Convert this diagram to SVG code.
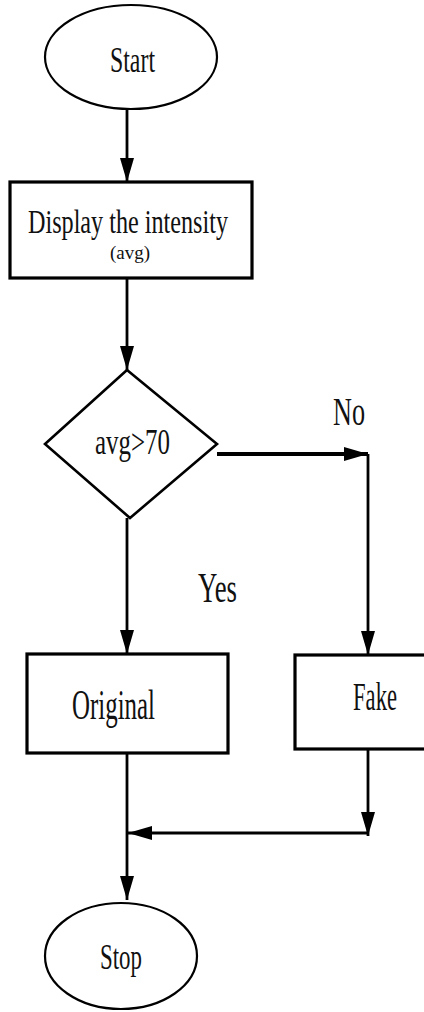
<svg xmlns="http://www.w3.org/2000/svg" width="424" height="1012" viewBox="0 0 424 1012">
<style>
.bg{fill:#fff}
.term{fill:#fff;stroke:#000;stroke-width:2.2}
.box{fill:#fff;stroke:#000;stroke-width:3.2}
.dia{fill:#fff;stroke:#000;stroke-width:2.6}
.edge{fill:none;stroke:#000;stroke-width:2.8}
.thick{stroke-width:4}
text{font-family:"Liberation Serif","Times New Roman",serif;fill:#111}
</style>
<defs>
<marker id="arr" markerUnits="userSpaceOnUse" markerWidth="24" markerHeight="14" refX="24" refY="7" orient="auto">
<path d="M0,0 L24,7 L0,14 z" fill="#000"/>
</marker>
</defs>
<rect class="bg" x="0" y="0" width="424" height="1012"/>
<g id="connectors">
<path class="edge" d="M127,110 V182" marker-end="url(#arr)"/>
<path class="edge" d="M127,278 V370" marker-end="url(#arr)"/>
<path class="edge thick" d="M217,454 H368" marker-end="url(#arr)"/>
<path class="edge" d="M368,454 V655" marker-end="url(#arr)"/>
<path class="edge" d="M127,518 V654" marker-end="url(#arr)"/>
<path class="edge" d="M368,749 V836" marker-end="url(#arr)"/>
<path class="edge" d="M368,833 H128" marker-end="url(#arr)"/>
<path class="edge" d="M127,753 V900" marker-end="url(#arr)"/>
<text x="333" y="425" font-size="40" textLength="32" lengthAdjust="spacingAndGlyphs">No</text>
<text x="198" y="602" font-size="42" textLength="39" lengthAdjust="spacingAndGlyphs">Yes</text>
</g>
<g id="start">
<ellipse class="term" cx="131" cy="57" rx="86" ry="52"/>
<text x="110" y="72" font-size="36" textLength="45" lengthAdjust="spacingAndGlyphs">Start</text>
</g>
<g id="display">
<rect class="box" x="10" y="182" width="242" height="96"/>
<text x="28" y="233" font-size="33" textLength="200" lengthAdjust="spacingAndGlyphs">Display the intensity</text>
<text x="110" y="259" font-size="19" textLength="40" lengthAdjust="spacingAndGlyphs">(avg)</text>
</g>
<g id="decision">
<polygon class="dia" points="127,370 217,444 130,518 45,444"/>
<text x="95" y="454" font-size="36" textLength="75" lengthAdjust="spacingAndGlyphs">avg&gt;70</text>
</g>
<g id="original">
<rect class="box" x="27" y="654" width="201" height="99"/>
<text x="72" y="719" font-size="42" textLength="83" lengthAdjust="spacingAndGlyphs">Original</text>
</g>
<g id="fake">
<rect class="box" x="295" y="655" width="140" height="94"/>
<text x="353" y="710" font-size="39" textLength="44" lengthAdjust="spacingAndGlyphs">Fake</text>
</g>
<g id="stop">
<ellipse class="term" cx="121" cy="956" rx="76" ry="53"/>
<text x="100" y="969" font-size="36" textLength="42" lengthAdjust="spacingAndGlyphs">Stop</text>
</g>
</svg>
